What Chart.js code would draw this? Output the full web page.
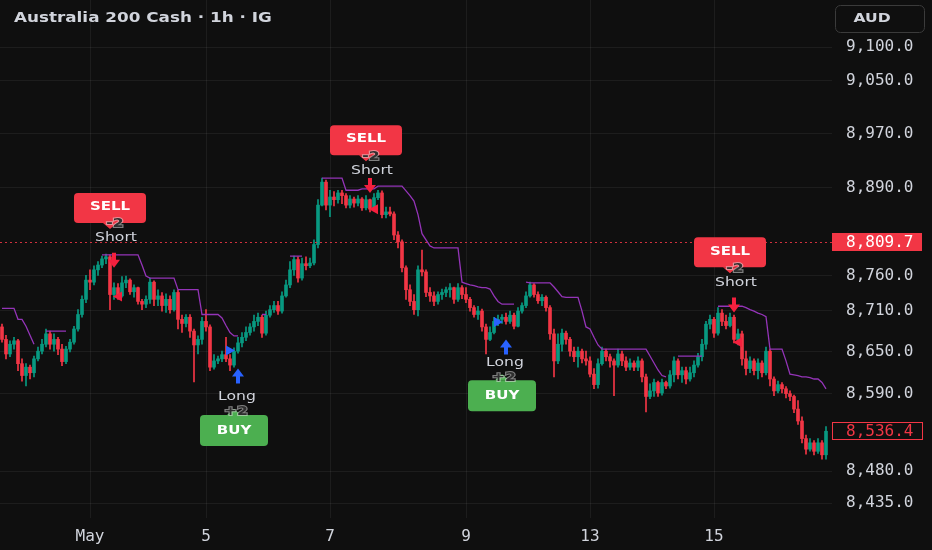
<!DOCTYPE html>
<html>
<head>
<meta charset="utf-8">
<script src="https://cdn.jsdelivr.net/npm/chart.js@4.4.1/dist/chart.umd.min.js"></script>
<style>
  html, body { margin: 0; padding: 0; background: #0f0f0f; }
  canvas { display: block; }
</style>
</head>
<body>
<canvas id="chart" width="932" height="550"></canvas>
<script>
// hourly candles (open = previous close)
const firstOpen = 8686;
const closes = [
  8668, 8647, 8661, 8666, 8633, 8616, 8628, 8620, 8640, 8651,
  8661, 8676, 8661, 8668, 8654, 8636, 8654, 8664, 8683, 8704,
  8726, 8754, 8751, 8769, 8776, 8785, 8788, 8733, 8743, 8731,
  8750, 8754, 8737, 8743, 8723, 8719, 8726, 8751, 8726, 8731,
  8717, 8726, 8711, 8736, 8697, 8691, 8700, 8680, 8660, 8668,
  8694, 8686, 8628, 8637, 8640, 8646, 8640, 8631, 8651, 8663,
  8671, 8678, 8686, 8694, 8700, 8677, 8703, 8711, 8717, 8709,
  8731, 8747, 8769, 8784, 8757, 8778, 8775, 8779, 8806, 8864,
  8898, 8864, 8876, 8872, 8882, 8878, 8864, 8873, 8867, 8873,
  8860, 8872, 8858, 8875, 8882, 8850, 8854, 8851, 8820, 8810,
  8772, 8740, 8723, 8711, 8769, 8766, 8736, 8731, 8723, 8733,
  8736, 8740, 8743, 8726, 8743, 8733, 8726, 8714, 8704, 8709,
  8686, 8668, 8678, 8694, 8697, 8700, 8694, 8703, 8687, 8709,
  8717, 8731, 8747, 8733, 8724, 8729, 8714, 8676, 8637, 8661,
  8677, 8668, 8651, 8643, 8651, 8640, 8637, 8618, 8603, 8633,
  8651, 8643, 8637, 8631, 8647, 8637, 8628, 8634, 8628, 8637,
  8614, 8586, 8594, 8606, 8591, 8606, 8601, 8617, 8637, 8617,
  8623, 8611, 8620, 8631, 8643, 8661, 8690, 8697, 8677, 8706,
  8694, 8688, 8700, 8668, 8676, 8640, 8626, 8637, 8623, 8634,
  8620, 8651, 8611, 8594, 8603, 8597, 8590, 8586, 8568, 8551,
  8526, 8511, 8520, 8508, 8520, 8503, 8536.4
];
const highs = [
  8690, 8674, 8666, 8671, 8668, 8640, 8633, 8631, 8644, 8657,
  8668, 8683, 8680, 8676, 8671, 8661, 8658, 8668, 8687, 8711,
  8731, 8761, 8769, 8775, 8781, 8789, 8792, 8791, 8750, 8749,
  8759, 8760, 8756, 8747, 8744, 8726, 8731, 8757, 8753, 8740,
  8736, 8734, 8731, 8740, 8739, 8703, 8704, 8704, 8683, 8673,
  8700, 8711, 8689, 8646, 8644, 8651, 8671, 8646, 8656, 8671,
  8678, 8686, 8691, 8703, 8706, 8703, 8709, 8717, 8723, 8723,
  8737, 8754, 8781, 8789, 8788, 8786, 8788, 8786, 8813, 8872,
  8904, 8901, 8886, 8884, 8886, 8886, 8881, 8878, 8876, 8878,
  8875, 8878, 8873, 8881, 8886, 8885, 8861, 8861, 8854, 8825,
  8813, 8775, 8747, 8733, 8775, 8798, 8769, 8743, 8737, 8737,
  8741, 8744, 8749, 8744, 8749, 8746, 8743, 8729, 8717, 8716,
  8712, 8690, 8686, 8700, 8703, 8704, 8706, 8709, 8706, 8714,
  8721, 8737, 8751, 8749, 8737, 8733, 8731, 8717, 8683, 8676,
  8683, 8680, 8671, 8657, 8657, 8654, 8651, 8643, 8626, 8640,
  8657, 8654, 8647, 8640, 8654, 8651, 8643, 8640, 8637, 8643,
  8640, 8618, 8604, 8611, 8608, 8611, 8608, 8623, 8643, 8640,
  8628, 8628, 8628, 8637, 8648, 8668, 8694, 8703, 8700, 8714,
  8711, 8703, 8706, 8703, 8683, 8680, 8651, 8643, 8640, 8640,
  8637, 8657, 8654, 8614, 8608, 8606, 8600, 8594, 8588, 8580,
  8557, 8531, 8526, 8523, 8526, 8523, 8543
];
const lows = [
  8664, 8640, 8643, 8654, 8623, 8608, 8601, 8611, 8614, 8637,
  8647, 8657, 8654, 8651, 8646, 8630, 8633, 8650, 8661, 8680,
  8700, 8721, 8740, 8747, 8761, 8772, 8778, 8711, 8726, 8726,
  8729, 8743, 8733, 8729, 8719, 8711, 8714, 8720, 8717, 8717,
  8709, 8707, 8706, 8709, 8683, 8678, 8686, 8671, 8607, 8647,
  8661, 8680, 8623, 8625, 8633, 8636, 8636, 8623, 8628, 8648,
  8657, 8666, 8674, 8680, 8688, 8671, 8674, 8700, 8707, 8704,
  8706, 8729, 8743, 8761, 8751, 8754, 8769, 8772, 8776, 8801,
  8863, 8857, 8847, 8863, 8867, 8866, 8860, 8860, 8861, 8863,
  8856, 8857, 8854, 8856, 8872, 8845, 8845, 8848, 8813, 8801,
  8766, 8726, 8717, 8704, 8702, 8760, 8730, 8723, 8717, 8719,
  8726, 8730, 8729, 8720, 8723, 8727, 8721, 8709, 8700, 8697,
  8680, 8647, 8666, 8676, 8688, 8691, 8690, 8691, 8683, 8686,
  8706, 8714, 8729, 8729, 8720, 8717, 8709, 8668, 8614, 8633,
  8651, 8661, 8644, 8636, 8628, 8634, 8631, 8614, 8597, 8598,
  8631, 8637, 8628, 8587, 8628, 8630, 8623, 8624, 8623, 8623,
  8607, 8564, 8583, 8586, 8586, 8588, 8597, 8598, 8607, 8611,
  8606, 8604, 8608, 8614, 8628, 8637, 8654, 8683, 8671, 8674,
  8688, 8683, 8686, 8663, 8660, 8631, 8617, 8620, 8617, 8611,
  8614, 8617, 8601, 8587, 8591, 8591, 8584, 8580, 8563, 8546,
  8520, 8504, 8508, 8503, 8505, 8497, 8497
];
// purple trailing stop, gaps where it is not plotted
const stopLine = [
  8713, 8713, 8713, 8713, 8697, 8697, 8687, 8674, 8661, null,
  null, 8680, 8680, 8680, 8680, 8680, 8680, null, null, null,
  null, null, null, null, null, 8791, 8791, 8791, 8791, 8791,
  8791, 8791, 8791, 8791, 8791, 8776, 8760, 8757, 8757, 8757,
  8757, 8757, 8757, 8757, 8740, 8740, 8740, 8740, 8740, 8740,
  8704, 8704, 8704, 8704, 8704, 8699, 8688, 8678, 8673, 8673,
  null, null, null, null, null, 8704, 8704, null, null, null,
  null, null, 8789, 8789, 8789, 8789, null, null, null, null,
  8904, 8904, 8904, 8904, 8904, 8904, 8886, 8886, 8886, 8886,
  8888, 8888, 8888, 8888, 8892, 8892, 8892, 8892, 8892, 8892,
  8892, 8885, 8878, 8870, 8850, 8822, 8813, 8804, 8801, 8801,
  8801, 8801, 8801, 8801, 8801, 8751, 8749, 8747, 8746, 8744,
  8743, 8743, 8741, 8731, 8723, 8719, 8719, 8719, 8719, null,
  null, 8751, 8750, 8750, 8750, 8750, 8750, 8750, 8744, 8737,
  8730, 8729, 8729, 8729, 8729, 8709, 8686, 8683, 8671, 8660,
  8654, 8654, 8654, 8654, 8654, 8654, 8654, 8654, 8654, 8654,
  8654, 8654, 8644, 8634, 8624, 8616, 8614, null, null, 8644,
  8644, 8644, 8644, 8644, 8644, 8644, null, null, null, 8716,
  8716, 8716, 8716, 8716, 8716, 8716, 8714, 8711, 8709, 8706,
  8704, 8701, 8654, 8654, 8654, 8654, 8637, 8618, 8617, 8616,
  8614, 8614, 8613, 8611, 8611, 8606, 8597
];

const dayTickIndex = [22, 51, 82, 116, 147, 178];
const dayTickText = ['May', '5', '7', '9', '13', '15'];
const priceTicks = [9100, 9050, 8970, 8890, 8760, 8710, 8650, 8590, 8480, 8435];
const entryPrice = 8809.7;
const lastPrice = 8536.4;

const sellSignals = [
  { bar: 27, labelAt: 8829, arrowBar: 28, arrowAt: 8772, markBar: 29, markAt: 8730 },
  { bar: 91, labelAt: 8929, arrowBar: 92, arrowAt: 8882, markBar: 93, markAt: 8858 },
  { bar: 182, labelAt: 8764, arrowBar: 183, arrowAt: 8707, markBar: 184, markAt: 8664 }
];
const buySignals = [
  { bar: 58, labelAt: 8568, arrowBar: 59, arrowAt: 8626, markBar: 57, markAt: 8652 },
  { bar: 125, labelAt: 8618, arrowBar: 126, arrowAt: 8668, markBar: 124, markAt: 8693 }
];

const UP = '#089981';
const DOWN = '#f23645';
const GRID = 'rgba(255,255,255,0.06)';
const TEXT = '#d1d4dc';
const MONO = '"DejaVu Sans Mono", monospace';
const SANS = '"DejaVu Sans", sans-serif';

const opens = closes.map((c, i) => (i === 0 ? firstOpen : closes[i - 1]));
const candleColors = closes.map((c, i) => (c >= opens[i] ? UP : DOWN));
const slots = closes.map((c, i) => String(i)).concat(['']);

const fmt = v => v.toLocaleString('en-US', { minimumFractionDigits: 1, maximumFractionDigits: 1 });

function wideText(ctx, text, x, y, sx) {
    ctx.save();
    ctx.translate(x, y);
    ctx.scale(sx, 1);
    ctx.fillText(text, 0, 0);
    ctx.restore();
}

// the "-2" / "+2" size tag: dark digits with a soft light rim
function sizeTag(ctx, text, x, y) {
    ctx.save();
    ctx.translate(x, y);
    ctx.scale(1.2, 1);
    ctx.font = 'bold 13px ' + SANS;
    ctx.lineWidth = 2;
    ctx.strokeStyle = 'rgba(220,220,220,0.55)';
    ctx.strokeText(text, 0, 0);
    ctx.fillStyle = '#2e2e2e';
    ctx.fillText(text, 0, 0);
    ctx.restore();
}

function sellLabel(ctx, cx, tipY) {
    const w = 72, h = 30, bottom = tipY - 6, top = bottom - h;
    ctx.fillStyle = DOWN;
    ctx.beginPath();
    ctx.roundRect(cx - w / 2, top, w, h, 4);
    ctx.fill();
    ctx.beginPath();
    ctx.moveTo(cx - 7, bottom);
    ctx.lineTo(cx + 7, bottom);
    ctx.lineTo(cx, tipY);
    ctx.closePath();
    ctx.fill();
    ctx.textAlign = 'center';
    ctx.textBaseline = 'middle';
    ctx.fillStyle = '#ffffff';
    ctx.font = 'bold 12.5px ' + SANS;
    wideText(ctx, 'SELL', cx, top + 14, 1.2);
    sizeTag(ctx, '-2', cx + 5, bottom + 1);
    ctx.fillStyle = TEXT;
    ctx.font = '13px ' + SANS;
    wideText(ctx, 'Short', cx + 6, bottom + 15, 1.2);
}

function buyLabel(ctx, cx, tipY) {
    const w = 68, h = 31, top = tipY + 6;
    ctx.fillStyle = '#4caf50';
    ctx.beginPath();
    ctx.roundRect(cx - w / 2, top, w, h, 4);
    ctx.fill();
    ctx.beginPath();
    ctx.moveTo(cx - 7, top);
    ctx.lineTo(cx + 7, top);
    ctx.lineTo(cx, tipY);
    ctx.closePath();
    ctx.fill();
    ctx.textAlign = 'center';
    ctx.textBaseline = 'middle';
    ctx.fillStyle = '#ffffff';
    ctx.font = 'bold 12.5px ' + SANS;
    wideText(ctx, 'BUY', cx, top + 16, 1.2);
    sizeTag(ctx, '+2', cx + 2, top - 3);
    ctx.fillStyle = TEXT;
    ctx.font = '13px ' + SANS;
    wideText(ctx, 'Long', cx + 3, top - 18, 1.2);
}

function arrow(ctx, x, tipY, dir, color) {
    // dir = 1 points down, -1 points up
    ctx.fillStyle = color;
    ctx.beginPath();
    ctx.moveTo(x, tipY);
    ctx.lineTo(x - 6, tipY - dir * 8);
    ctx.lineTo(x - 2, tipY - dir * 8);
    ctx.lineTo(x - 2, tipY - dir * 15);
    ctx.lineTo(x + 2, tipY - dir * 15);
    ctx.lineTo(x + 2, tipY - dir * 8);
    ctx.lineTo(x + 6, tipY - dir * 8);
    ctx.closePath();
    ctx.fill();
}

function flag(ctx, x, y, dir, color) {
    // dir = -1 points left, 1 points right
    ctx.fillStyle = color;
    ctx.beginPath();
    ctx.moveTo(x + dir * 5, y);
    ctx.lineTo(x - dir * 4, y - 5);
    ctx.lineTo(x - dir * 4, y + 5);
    ctx.closePath();
    ctx.fill();
}

const overlay = {
    id: 'overlay',
    afterDatasetsDraw(chart) {
        const { ctx, chartArea: a, scales: { x, y } } = chart;
        ctx.save();
        const ey = Math.round(y.getPixelForValue(entryPrice)) + 0.5;
        ctx.strokeStyle = 'rgba(242,54,69,0.85)';
        ctx.lineWidth = 1;
        ctx.setLineDash([2, 3]);
        ctx.beginPath();
        ctx.moveTo(a.left, ey);
        ctx.lineTo(a.right, ey);
        ctx.stroke();
        ctx.setLineDash([]);

        sellSignals.forEach(s => {
            flag(ctx, x.getPixelForValue(s.markBar), y.getPixelForValue(s.markAt), -1, '#f5203e');
            arrow(ctx, x.getPixelForValue(s.arrowBar), y.getPixelForValue(s.arrowAt), 1, '#f5203e');
            sellLabel(ctx, x.getPixelForValue(s.bar), y.getPixelForValue(s.labelAt));
        });
        buySignals.forEach(s => {
            flag(ctx, x.getPixelForValue(s.markBar), y.getPixelForValue(s.markAt), 1, '#2962ff');
            arrow(ctx, x.getPixelForValue(s.arrowBar), y.getPixelForValue(s.arrowAt), -1, '#2962ff');
            buyLabel(ctx, x.getPixelForValue(s.bar), y.getPixelForValue(s.labelAt));
        });
        ctx.restore();
    },
    afterDraw(chart) {
        const { ctx, chartArea: a, scales: { y } } = chart;
        ctx.save();
        // title
        ctx.fillStyle = TEXT;
        ctx.font = 'bold 14px ' + SANS;
        ctx.textAlign = 'left';
        ctx.textBaseline = 'middle';
        wideText(ctx, 'Australia 200 Cash · 1h · IG', 14, 18, 1.2);

        // currency box
        ctx.strokeStyle = '#3b3b3b';
        ctx.lineWidth = 1;
        ctx.beginPath();
        ctx.roundRect(835.5, 5.5, 89, 27, 5);
        ctx.stroke();
        ctx.fillStyle = TEXT;
        ctx.font = 'bold 13px ' + SANS;
        ctx.textAlign = 'center';
        wideText(ctx, 'AUD', 872, 19, 1.2);

        // price labels on the axis
        ctx.textAlign = 'left';
        ctx.font = '16px ' + MONO;
        const ey = Math.round(y.getPixelForValue(entryPrice));
        ctx.fillStyle = DOWN;
        ctx.fillRect(a.right, ey - 9, 90, 18);
        ctx.fillStyle = '#ffffff';
        ctx.fillText(fmt(entryPrice), a.right + 14, ey + 1);

        const ly = Math.round(y.getPixelForValue(lastPrice));
        ctx.fillStyle = '#0f0f0f';
        ctx.fillRect(a.right, ly - 9, 90, 18);
        ctx.strokeStyle = DOWN;
        ctx.strokeRect(a.right + 0.5, ly - 8.5, 90, 17);
        ctx.fillStyle = DOWN;
        ctx.fillText(fmt(lastPrice), a.right + 14, ly + 1);
        ctx.restore();
    }
};

new Chart(document.getElementById('chart').getContext('2d'), {
    type: 'bar',
    data: {
        labels: slots,
        datasets: [
            {
                type: 'line',
                data: stopLine,
                borderColor: '#9434b8',
                borderWidth: 1.3,
                pointRadius: 0,
                tension: 0,
                spanGaps: false
            },
            {
                data: closes.map((c, i) => [opens[i], c]),
                backgroundColor: candleColors,
                barThickness: 3,
                minBarLength: 1,
                grouped: false
            },
            {
                data: highs.map((h, i) => [lows[i], h]),
                backgroundColor: candleColors,
                barThickness: 1,
                grouped: false
            }
        ]
    },
    options: {
        responsive: false,
        animation: false,
        events: [],
        layout: { padding: 0, autoPadding: false },
        plugins: { legend: { display: false }, tooltip: { enabled: false } },
        scales: {
            x: {
                border: { display: false },
                grid: {
                    offset: false,
                    drawTicks: false,
                    color: c => (dayTickIndex.includes(c.index) ? GRID : 'transparent')
                },
                ticks: {
                    autoSkip: false,
                    maxRotation: 0,
                    padding: 9,
                    color: TEXT,
                    font: { family: MONO, size: 16 },
                    callback: (v, i) => {
                        const k = dayTickIndex.indexOf(i);
                        return k >= 0 ? dayTickText[k] : '';
                    }
                },
                afterFit: s => {
                    s.height = 32;
                    s.paddingLeft = 0;
                    s.paddingRight = 0;
                }
            },
            y: {
                type: 'logarithmic',
                position: 'right',
                min: 8414,
                max: 9172,
                bounds: 'data',
                border: { display: false },
                grid: { color: GRID, drawTicks: false },
                ticks: {
                    padding: 14,
                    color: TEXT,
                    font: { family: MONO, size: 16 },
                    callback: v => fmt(v)
                },
                afterBuildTicks: s => { s.ticks = priceTicks.map(v => ({ value: v })); },
                afterFit: s => {
                    s.width = 100;
                    s.paddingTop = 0;
                    s.paddingBottom = 0;
                }
            }
        }
    },
    plugins: [overlay]
});
</script>
</body>
</html>
